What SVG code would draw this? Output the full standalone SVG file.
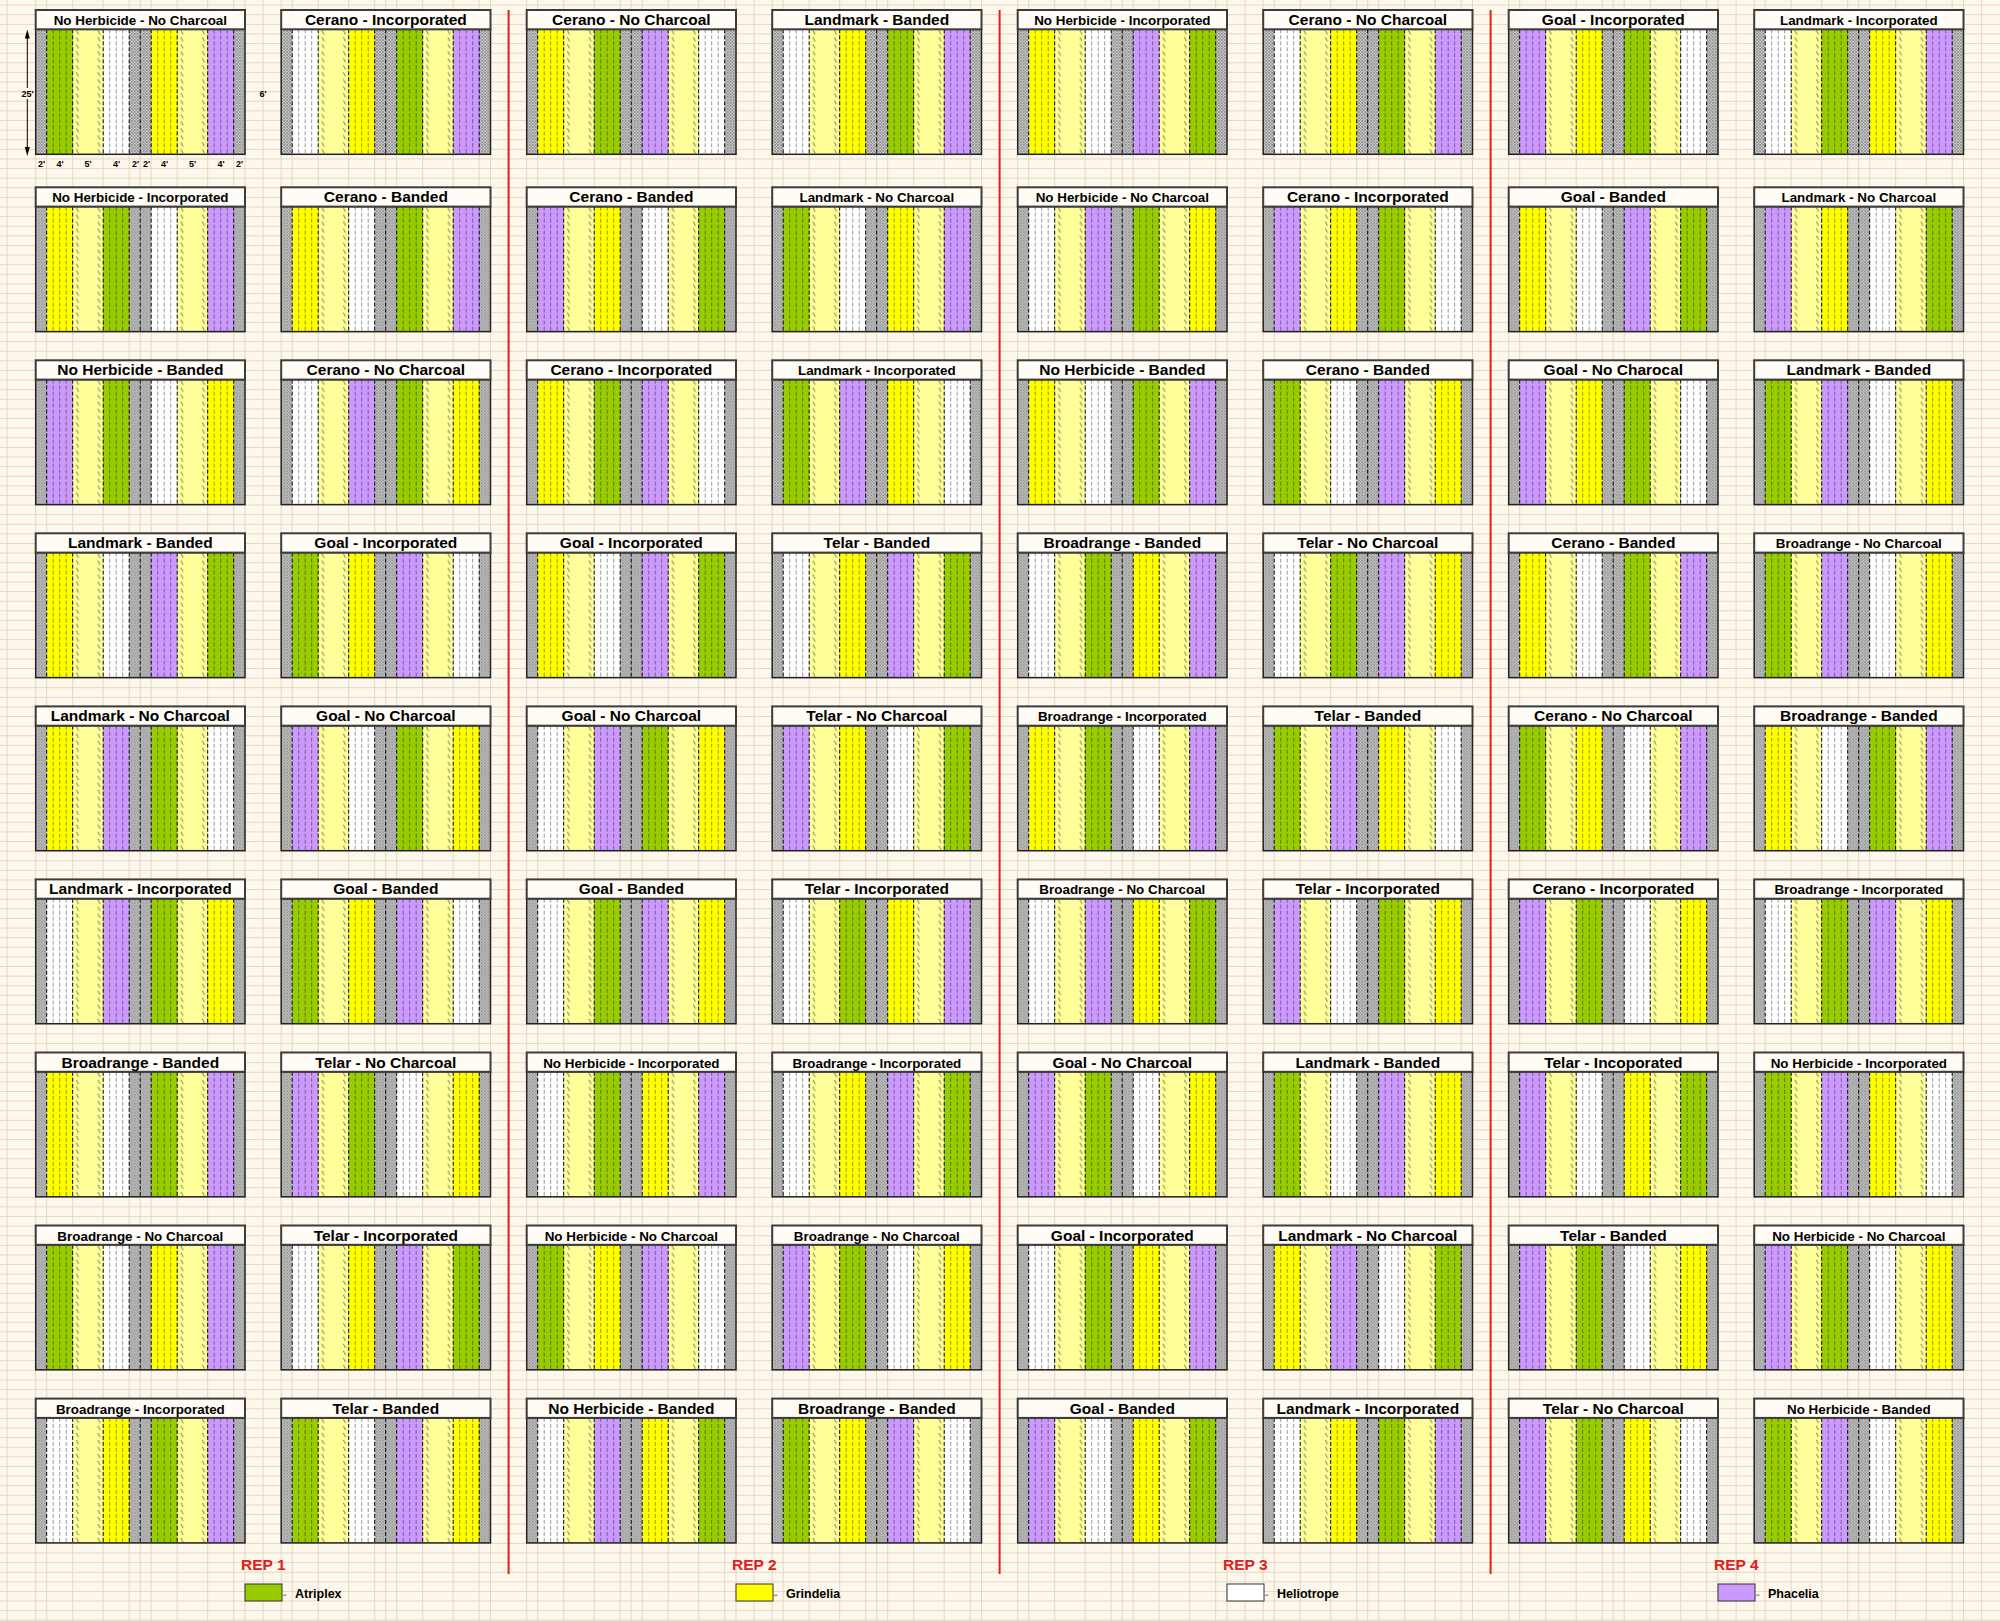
<svg xmlns="http://www.w3.org/2000/svg" xmlns:xlink="http://www.w3.org/1999/xlink" width="2000" height="1621" viewBox="0 0 2000 1621">
<style>
.t{font-family:"Liberation Sans",Arial,sans-serif;font-weight:bold;fill:#000;text-anchor:middle}
.L{font-size:15.5px}
.S{font-size:13.4px}
.d{font-size:9px}
.rep{font-family:"Liberation Sans",Arial,sans-serif;font-weight:bold;font-size:15.5px;fill:#e02020}
.lg{font-family:"Liberation Sans",Arial,sans-serif;font-weight:bold;font-size:12.5px;fill:#000}
.tb{fill:#fffcf6;stroke:#3c3c3c;stroke-width:2}
.fr{fill:none;stroke:#222;stroke-width:1.5}
.bd{fill:none;stroke:#000;stroke-width:1;stroke-dasharray:4 2}
.in{fill:none;stroke:#000;stroke-opacity:.45;stroke-width:.9;stroke-dasharray:4 2}
.red{stroke:#e02020;stroke-width:2}
.grid{fill:none;stroke:#e0d8c8;stroke-width:1}
</style>
<defs>
<pattern id="hatch" width="3" height="3" patternUnits="userSpaceOnUse">
<rect width="3" height="3" fill="#cfcfcf"/>
<path d="M0 0L3 3M3 0L0 3" stroke="#7d7d7d" stroke-width=".7"/>
</pattern>
<pattern id="bs" width="5" height="7" patternUnits="userSpaceOnUse">
<path d="M1.2 1L3.4 5.2" stroke="#55553a" stroke-width=".8"/>
</pattern>
<pattern id="hl" width="2000" height="9.614" y="187.3" patternUnits="userSpaceOnUse">
<rect width="2000" height="9.614" fill="#fdf7ec"/>
<path d="M0 0.5H2000" stroke="#e0d8c8" stroke-width="1"/>
</pattern>
<g id="bsc"><rect width="5" height="125" fill="url(#bs)"/></g>
<g id="sG"><rect width="26" height="125" fill="#99cc00"/><path class="in" d="M6.5 0V125M13 0V125M19.5 0V125"/></g>
<g id="sY"><rect width="26" height="125" fill="#ffff00"/><path class="in" d="M6.5 0V125M13 0V125M19.5 0V125"/></g>
<g id="sW"><rect width="26" height="125" fill="#ffffff"/><path class="in" d="M6.5 0V125M13 0V125M19.5 0V125"/></g>
<g id="sP"><rect width="26" height="125" fill="#cc99ff"/><path class="in" d="M6.5 0V125M13 0V125M19.5 0V125"/></g>
<g id="bg">
<rect x="0" y="19.3" width="209.3" height="125" fill="url(#hatch)"/>
<rect x="37" y="19.3" width="30.5" height="125" fill="#ffff99"/>
<rect x="141.5" y="19.3" width="30.5" height="125" fill="#ffff99"/>
<use xlink:href="#bsc" x="39.5" y="19.3"/>
<use xlink:href="#bsc" x="61" y="19.3"/>
<use xlink:href="#bsc" x="144" y="19.3"/>
<use xlink:href="#bsc" x="165.5" y="19.3"/>
</g>
<g id="ov">
<path class="bd" d="M11 19.3V144.3M37 19.3V144.3M67.5 19.3V144.3M93.5 19.3V144.3M104.5 19.3V144.3M115.5 19.3V144.3M141.5 19.3V144.3M172 19.3V144.3M198 19.3V144.3"/>
<rect class="fr" x="0" y="19.3" width="209.3" height="125"/>
<rect class="tb" x="0" y="0" width="209.3" height="19.3"/>
</g>
</defs>

<g id="background">
<rect width="2000" height="1621" fill="url(#hl)"/>
<path class="grid" d="M7 0V1621M35.7 0V1621M46.7 0V1621M72.7 0V1621M103.2 0V1621M129.2 0V1621M140.2 0V1621M151.2 0V1621M177.2 0V1621M207.7 0V1621M233.7 0V1621M245 0V1621M263.1 0V1621M281.2 0V1621M292.2 0V1621M318.2 0V1621M348.7 0V1621M374.7 0V1621M385.7 0V1621M396.7 0V1621M422.7 0V1621M453.2 0V1621M479.2 0V1621M490.5 0V1621M526.7 0V1621M537.7 0V1621M563.7 0V1621M594.2 0V1621M620.2 0V1621M631.2 0V1621M642.2 0V1621M668.2 0V1621M698.7 0V1621M724.7 0V1621M736 0V1621M754.1 0V1621M772.2 0V1621M783.2 0V1621M809.2 0V1621M839.7 0V1621M865.7 0V1621M876.7 0V1621M887.7 0V1621M913.7 0V1621M944.2 0V1621M970.2 0V1621M981.5 0V1621M1017.7 0V1621M1028.7 0V1621M1054.7 0V1621M1085.2 0V1621M1111.2 0V1621M1122.2 0V1621M1133.2 0V1621M1159.2 0V1621M1189.7 0V1621M1215.7 0V1621M1227 0V1621M1245.1 0V1621M1263.2 0V1621M1274.2 0V1621M1300.2 0V1621M1330.7 0V1621M1356.7 0V1621M1367.7 0V1621M1378.7 0V1621M1404.7 0V1621M1435.2 0V1621M1461.2 0V1621M1472.5 0V1621M1508.7 0V1621M1519.7 0V1621M1545.7 0V1621M1576.2 0V1621M1602.2 0V1621M1613.2 0V1621M1624.2 0V1621M1650.2 0V1621M1680.7 0V1621M1706.7 0V1621M1718 0V1621M1736.1 0V1621M1754.2 0V1621M1765.2 0V1621M1791.2 0V1621M1821.7 0V1621M1847.7 0V1621M1858.7 0V1621M1869.7 0V1621M1895.7 0V1621M1926.2 0V1621M1952.2 0V1621M1963.5 0V1621M1981.6 0V1621"/>
</g>

<g id="connectors">
<line class="red" x1="508.6" y1="10" x2="508.6" y2="1574"/>
<line class="red" x1="999.6" y1="10" x2="999.6" y2="1574"/>
<line class="red" x1="1490.6" y1="10" x2="1490.6" y2="1574"/>
</g>

<g id="dimensions">
<path d="M27.3 38V88M27.3 99V147" stroke="#000" stroke-width="1"/>
<path d="M27.3 29.5L24.8 38.5H29.8Z M27.3 156L24.8 147H29.8Z" fill="#000"/>
<text class="t d" x="27.5" y="96.5">25'</text>
<text class="t d" x="263" y="96.5">6'</text>
<text class="t d" x="41.5" y="166.5">2'</text>
<text class="t d" x="60" y="166.5">4'</text>
<text class="t d" x="88" y="166.5">5'</text>
<text class="t d" x="116.5" y="166.5">4'</text>
<text class="t d" x="135.5" y="166.5">2'</text>
<text class="t d" x="146.5" y="166.5">2'</text>
<text class="t d" x="164.5" y="166.5">4'</text>
<text class="t d" x="192.5" y="166.5">5'</text>
<text class="t d" x="221" y="166.5">4'</text>
<text class="t d" x="239.5" y="166.5">2'</text>
</g>

<!-- Row 1 -->
<g id="r1c1" transform="translate(35.7,10)"><use xlink:href="#bg"/><use xlink:href="#sG" x="11" y="19.3"/><use xlink:href="#sW" x="67.5" y="19.3"/><use xlink:href="#sY" x="115.5" y="19.3"/><use xlink:href="#sP" x="172" y="19.3"/><use xlink:href="#ov"/><text class="t S" x="104.65" y="15">No Herbicide - No Charcoal</text></g>
<g id="r1c2" transform="translate(281.2,10)"><use xlink:href="#bg"/><use xlink:href="#sW" x="11" y="19.3"/><use xlink:href="#sY" x="67.5" y="19.3"/><use xlink:href="#sG" x="115.5" y="19.3"/><use xlink:href="#sP" x="172" y="19.3"/><use xlink:href="#ov"/><text class="t L" x="104.65" y="15">Cerano - Incorporated</text></g>
<g id="r1c3" transform="translate(526.7,10)"><use xlink:href="#bg"/><use xlink:href="#sY" x="11" y="19.3"/><use xlink:href="#sG" x="67.5" y="19.3"/><use xlink:href="#sP" x="115.5" y="19.3"/><use xlink:href="#sW" x="172" y="19.3"/><use xlink:href="#ov"/><text class="t L" x="104.65" y="15">Cerano - No Charcoal</text></g>
<g id="r1c4" transform="translate(772.2,10)"><use xlink:href="#bg"/><use xlink:href="#sW" x="11" y="19.3"/><use xlink:href="#sY" x="67.5" y="19.3"/><use xlink:href="#sG" x="115.5" y="19.3"/><use xlink:href="#sP" x="172" y="19.3"/><use xlink:href="#ov"/><text class="t L" x="104.65" y="15">Landmark - Banded</text></g>
<g id="r1c5" transform="translate(1017.7,10)"><use xlink:href="#bg"/><use xlink:href="#sY" x="11" y="19.3"/><use xlink:href="#sW" x="67.5" y="19.3"/><use xlink:href="#sP" x="115.5" y="19.3"/><use xlink:href="#sG" x="172" y="19.3"/><use xlink:href="#ov"/><text class="t S" x="104.65" y="15">No Herbicide - Incorporated</text></g>
<g id="r1c6" transform="translate(1263.2,10)"><use xlink:href="#bg"/><use xlink:href="#sW" x="11" y="19.3"/><use xlink:href="#sY" x="67.5" y="19.3"/><use xlink:href="#sG" x="115.5" y="19.3"/><use xlink:href="#sP" x="172" y="19.3"/><use xlink:href="#ov"/><text class="t L" x="104.65" y="15">Cerano - No Charcoal</text></g>
<g id="r1c7" transform="translate(1508.7,10)"><use xlink:href="#bg"/><use xlink:href="#sP" x="11" y="19.3"/><use xlink:href="#sY" x="67.5" y="19.3"/><use xlink:href="#sG" x="115.5" y="19.3"/><use xlink:href="#sW" x="172" y="19.3"/><use xlink:href="#ov"/><text class="t L" x="104.65" y="15">Goal - Incorporated</text></g>
<g id="r1c8" transform="translate(1754.2,10)"><use xlink:href="#bg"/><use xlink:href="#sW" x="11" y="19.3"/><use xlink:href="#sG" x="67.5" y="19.3"/><use xlink:href="#sY" x="115.5" y="19.3"/><use xlink:href="#sP" x="172" y="19.3"/><use xlink:href="#ov"/><text class="t S" x="104.65" y="15">Landmark - Incorporated</text></g>

<!-- Row 2 -->
<g id="r2c1" transform="translate(35.7,187.3)"><use xlink:href="#bg"/><use xlink:href="#sY" x="11" y="19.3"/><use xlink:href="#sG" x="67.5" y="19.3"/><use xlink:href="#sW" x="115.5" y="19.3"/><use xlink:href="#sP" x="172" y="19.3"/><use xlink:href="#ov"/><text class="t S" x="104.65" y="15">No Herbicide - Incorporated</text></g>
<g id="r2c2" transform="translate(281.2,187.3)"><use xlink:href="#bg"/><use xlink:href="#sY" x="11" y="19.3"/><use xlink:href="#sW" x="67.5" y="19.3"/><use xlink:href="#sG" x="115.5" y="19.3"/><use xlink:href="#sP" x="172" y="19.3"/><use xlink:href="#ov"/><text class="t L" x="104.65" y="15">Cerano - Banded</text></g>
<g id="r2c3" transform="translate(526.7,187.3)"><use xlink:href="#bg"/><use xlink:href="#sP" x="11" y="19.3"/><use xlink:href="#sY" x="67.5" y="19.3"/><use xlink:href="#sW" x="115.5" y="19.3"/><use xlink:href="#sG" x="172" y="19.3"/><use xlink:href="#ov"/><text class="t L" x="104.65" y="15">Cerano - Banded</text></g>
<g id="r2c4" transform="translate(772.2,187.3)"><use xlink:href="#bg"/><use xlink:href="#sG" x="11" y="19.3"/><use xlink:href="#sW" x="67.5" y="19.3"/><use xlink:href="#sY" x="115.5" y="19.3"/><use xlink:href="#sP" x="172" y="19.3"/><use xlink:href="#ov"/><text class="t S" x="104.65" y="15">Landmark - No Charcoal</text></g>
<g id="r2c5" transform="translate(1017.7,187.3)"><use xlink:href="#bg"/><use xlink:href="#sW" x="11" y="19.3"/><use xlink:href="#sP" x="67.5" y="19.3"/><use xlink:href="#sG" x="115.5" y="19.3"/><use xlink:href="#sY" x="172" y="19.3"/><use xlink:href="#ov"/><text class="t S" x="104.65" y="15">No Herbicide - No Charcoal</text></g>
<g id="r2c6" transform="translate(1263.2,187.3)"><use xlink:href="#bg"/><use xlink:href="#sP" x="11" y="19.3"/><use xlink:href="#sY" x="67.5" y="19.3"/><use xlink:href="#sG" x="115.5" y="19.3"/><use xlink:href="#sW" x="172" y="19.3"/><use xlink:href="#ov"/><text class="t L" x="104.65" y="15">Cerano - Incorporated</text></g>
<g id="r2c7" transform="translate(1508.7,187.3)"><use xlink:href="#bg"/><use xlink:href="#sY" x="11" y="19.3"/><use xlink:href="#sW" x="67.5" y="19.3"/><use xlink:href="#sP" x="115.5" y="19.3"/><use xlink:href="#sG" x="172" y="19.3"/><use xlink:href="#ov"/><text class="t L" x="104.65" y="15">Goal - Banded</text></g>
<g id="r2c8" transform="translate(1754.2,187.3)"><use xlink:href="#bg"/><use xlink:href="#sP" x="11" y="19.3"/><use xlink:href="#sY" x="67.5" y="19.3"/><use xlink:href="#sW" x="115.5" y="19.3"/><use xlink:href="#sG" x="172" y="19.3"/><use xlink:href="#ov"/><text class="t S" x="104.65" y="15">Landmark - No Charcoal</text></g>

<!-- Row 3 -->
<g id="r3c1" transform="translate(35.7,360.3)"><use xlink:href="#bg"/><use xlink:href="#sP" x="11" y="19.3"/><use xlink:href="#sG" x="67.5" y="19.3"/><use xlink:href="#sW" x="115.5" y="19.3"/><use xlink:href="#sY" x="172" y="19.3"/><use xlink:href="#ov"/><text class="t L" x="104.65" y="15">No Herbicide - Banded</text></g>
<g id="r3c2" transform="translate(281.2,360.3)"><use xlink:href="#bg"/><use xlink:href="#sW" x="11" y="19.3"/><use xlink:href="#sP" x="67.5" y="19.3"/><use xlink:href="#sG" x="115.5" y="19.3"/><use xlink:href="#sY" x="172" y="19.3"/><use xlink:href="#ov"/><text class="t L" x="104.65" y="15">Cerano - No Charcoal</text></g>
<g id="r3c3" transform="translate(526.7,360.3)"><use xlink:href="#bg"/><use xlink:href="#sY" x="11" y="19.3"/><use xlink:href="#sG" x="67.5" y="19.3"/><use xlink:href="#sP" x="115.5" y="19.3"/><use xlink:href="#sW" x="172" y="19.3"/><use xlink:href="#ov"/><text class="t L" x="104.65" y="15">Cerano - Incorporated</text></g>
<g id="r3c4" transform="translate(772.2,360.3)"><use xlink:href="#bg"/><use xlink:href="#sG" x="11" y="19.3"/><use xlink:href="#sP" x="67.5" y="19.3"/><use xlink:href="#sY" x="115.5" y="19.3"/><use xlink:href="#sW" x="172" y="19.3"/><use xlink:href="#ov"/><text class="t S" x="104.65" y="15">Landmark - Incorporated</text></g>
<g id="r3c5" transform="translate(1017.7,360.3)"><use xlink:href="#bg"/><use xlink:href="#sY" x="11" y="19.3"/><use xlink:href="#sW" x="67.5" y="19.3"/><use xlink:href="#sG" x="115.5" y="19.3"/><use xlink:href="#sP" x="172" y="19.3"/><use xlink:href="#ov"/><text class="t L" x="104.65" y="15">No Herbicide - Banded</text></g>
<g id="r3c6" transform="translate(1263.2,360.3)"><use xlink:href="#bg"/><use xlink:href="#sG" x="11" y="19.3"/><use xlink:href="#sW" x="67.5" y="19.3"/><use xlink:href="#sP" x="115.5" y="19.3"/><use xlink:href="#sY" x="172" y="19.3"/><use xlink:href="#ov"/><text class="t L" x="104.65" y="15">Cerano - Banded</text></g>
<g id="r3c7" transform="translate(1508.7,360.3)"><use xlink:href="#bg"/><use xlink:href="#sP" x="11" y="19.3"/><use xlink:href="#sY" x="67.5" y="19.3"/><use xlink:href="#sG" x="115.5" y="19.3"/><use xlink:href="#sW" x="172" y="19.3"/><use xlink:href="#ov"/><text class="t L" x="104.65" y="15">Goal - No Charocal</text></g>
<g id="r3c8" transform="translate(1754.2,360.3)"><use xlink:href="#bg"/><use xlink:href="#sG" x="11" y="19.3"/><use xlink:href="#sP" x="67.5" y="19.3"/><use xlink:href="#sW" x="115.5" y="19.3"/><use xlink:href="#sY" x="172" y="19.3"/><use xlink:href="#ov"/><text class="t L" x="104.65" y="15">Landmark - Banded</text></g>

<!-- Row 4 -->
<g id="r4c1" transform="translate(35.7,533.3)"><use xlink:href="#bg"/><use xlink:href="#sY" x="11" y="19.3"/><use xlink:href="#sW" x="67.5" y="19.3"/><use xlink:href="#sP" x="115.5" y="19.3"/><use xlink:href="#sG" x="172" y="19.3"/><use xlink:href="#ov"/><text class="t L" x="104.65" y="15">Landmark - Banded</text></g>
<g id="r4c2" transform="translate(281.2,533.3)"><use xlink:href="#bg"/><use xlink:href="#sG" x="11" y="19.3"/><use xlink:href="#sY" x="67.5" y="19.3"/><use xlink:href="#sP" x="115.5" y="19.3"/><use xlink:href="#sW" x="172" y="19.3"/><use xlink:href="#ov"/><text class="t L" x="104.65" y="15">Goal - Incorporated</text></g>
<g id="r4c3" transform="translate(526.7,533.3)"><use xlink:href="#bg"/><use xlink:href="#sY" x="11" y="19.3"/><use xlink:href="#sW" x="67.5" y="19.3"/><use xlink:href="#sP" x="115.5" y="19.3"/><use xlink:href="#sG" x="172" y="19.3"/><use xlink:href="#ov"/><text class="t L" x="104.65" y="15">Goal - Incorporated</text></g>
<g id="r4c4" transform="translate(772.2,533.3)"><use xlink:href="#bg"/><use xlink:href="#sW" x="11" y="19.3"/><use xlink:href="#sY" x="67.5" y="19.3"/><use xlink:href="#sP" x="115.5" y="19.3"/><use xlink:href="#sG" x="172" y="19.3"/><use xlink:href="#ov"/><text class="t L" x="104.65" y="15">Telar - Banded</text></g>
<g id="r4c5" transform="translate(1017.7,533.3)"><use xlink:href="#bg"/><use xlink:href="#sW" x="11" y="19.3"/><use xlink:href="#sG" x="67.5" y="19.3"/><use xlink:href="#sY" x="115.5" y="19.3"/><use xlink:href="#sP" x="172" y="19.3"/><use xlink:href="#ov"/><text class="t L" x="104.65" y="15">Broadrange - Banded</text></g>
<g id="r4c6" transform="translate(1263.2,533.3)"><use xlink:href="#bg"/><use xlink:href="#sW" x="11" y="19.3"/><use xlink:href="#sG" x="67.5" y="19.3"/><use xlink:href="#sP" x="115.5" y="19.3"/><use xlink:href="#sY" x="172" y="19.3"/><use xlink:href="#ov"/><text class="t L" x="104.65" y="15">Telar - No Charcoal</text></g>
<g id="r4c7" transform="translate(1508.7,533.3)"><use xlink:href="#bg"/><use xlink:href="#sY" x="11" y="19.3"/><use xlink:href="#sW" x="67.5" y="19.3"/><use xlink:href="#sG" x="115.5" y="19.3"/><use xlink:href="#sP" x="172" y="19.3"/><use xlink:href="#ov"/><text class="t L" x="104.65" y="15">Cerano - Banded</text></g>
<g id="r4c8" transform="translate(1754.2,533.3)"><use xlink:href="#bg"/><use xlink:href="#sG" x="11" y="19.3"/><use xlink:href="#sP" x="67.5" y="19.3"/><use xlink:href="#sW" x="115.5" y="19.3"/><use xlink:href="#sY" x="172" y="19.3"/><use xlink:href="#ov"/><text class="t S" x="104.65" y="15">Broadrange - No Charcoal</text></g>

<!-- Row 5 -->
<g id="r5c1" transform="translate(35.7,706.4)"><use xlink:href="#bg"/><use xlink:href="#sY" x="11" y="19.3"/><use xlink:href="#sP" x="67.5" y="19.3"/><use xlink:href="#sG" x="115.5" y="19.3"/><use xlink:href="#sW" x="172" y="19.3"/><use xlink:href="#ov"/><text class="t L" x="104.65" y="15">Landmark - No Charcoal</text></g>
<g id="r5c2" transform="translate(281.2,706.4)"><use xlink:href="#bg"/><use xlink:href="#sP" x="11" y="19.3"/><use xlink:href="#sW" x="67.5" y="19.3"/><use xlink:href="#sG" x="115.5" y="19.3"/><use xlink:href="#sY" x="172" y="19.3"/><use xlink:href="#ov"/><text class="t L" x="104.65" y="15">Goal - No Charcoal</text></g>
<g id="r5c3" transform="translate(526.7,706.4)"><use xlink:href="#bg"/><use xlink:href="#sW" x="11" y="19.3"/><use xlink:href="#sP" x="67.5" y="19.3"/><use xlink:href="#sG" x="115.5" y="19.3"/><use xlink:href="#sY" x="172" y="19.3"/><use xlink:href="#ov"/><text class="t L" x="104.65" y="15">Goal - No Charcoal</text></g>
<g id="r5c4" transform="translate(772.2,706.4)"><use xlink:href="#bg"/><use xlink:href="#sP" x="11" y="19.3"/><use xlink:href="#sY" x="67.5" y="19.3"/><use xlink:href="#sW" x="115.5" y="19.3"/><use xlink:href="#sG" x="172" y="19.3"/><use xlink:href="#ov"/><text class="t L" x="104.65" y="15">Telar - No Charcoal</text></g>
<g id="r5c5" transform="translate(1017.7,706.4)"><use xlink:href="#bg"/><use xlink:href="#sY" x="11" y="19.3"/><use xlink:href="#sG" x="67.5" y="19.3"/><use xlink:href="#sW" x="115.5" y="19.3"/><use xlink:href="#sP" x="172" y="19.3"/><use xlink:href="#ov"/><text class="t S" x="104.65" y="15">Broadrange - Incorporated</text></g>
<g id="r5c6" transform="translate(1263.2,706.4)"><use xlink:href="#bg"/><use xlink:href="#sG" x="11" y="19.3"/><use xlink:href="#sP" x="67.5" y="19.3"/><use xlink:href="#sY" x="115.5" y="19.3"/><use xlink:href="#sW" x="172" y="19.3"/><use xlink:href="#ov"/><text class="t L" x="104.65" y="15">Telar - Banded</text></g>
<g id="r5c7" transform="translate(1508.7,706.4)"><use xlink:href="#bg"/><use xlink:href="#sG" x="11" y="19.3"/><use xlink:href="#sY" x="67.5" y="19.3"/><use xlink:href="#sW" x="115.5" y="19.3"/><use xlink:href="#sP" x="172" y="19.3"/><use xlink:href="#ov"/><text class="t L" x="104.65" y="15">Cerano - No Charcoal</text></g>
<g id="r5c8" transform="translate(1754.2,706.4)"><use xlink:href="#bg"/><use xlink:href="#sY" x="11" y="19.3"/><use xlink:href="#sW" x="67.5" y="19.3"/><use xlink:href="#sG" x="115.5" y="19.3"/><use xlink:href="#sP" x="172" y="19.3"/><use xlink:href="#ov"/><text class="t L" x="104.65" y="15">Broadrange - Banded</text></g>

<!-- Row 6 -->
<g id="r6c1" transform="translate(35.7,879.4)"><use xlink:href="#bg"/><use xlink:href="#sW" x="11" y="19.3"/><use xlink:href="#sP" x="67.5" y="19.3"/><use xlink:href="#sG" x="115.5" y="19.3"/><use xlink:href="#sY" x="172" y="19.3"/><use xlink:href="#ov"/><text class="t L" x="104.65" y="15">Landmark - Incorporated</text></g>
<g id="r6c2" transform="translate(281.2,879.4)"><use xlink:href="#bg"/><use xlink:href="#sG" x="11" y="19.3"/><use xlink:href="#sY" x="67.5" y="19.3"/><use xlink:href="#sP" x="115.5" y="19.3"/><use xlink:href="#sW" x="172" y="19.3"/><use xlink:href="#ov"/><text class="t L" x="104.65" y="15">Goal - Banded</text></g>
<g id="r6c3" transform="translate(526.7,879.4)"><use xlink:href="#bg"/><use xlink:href="#sW" x="11" y="19.3"/><use xlink:href="#sG" x="67.5" y="19.3"/><use xlink:href="#sP" x="115.5" y="19.3"/><use xlink:href="#sY" x="172" y="19.3"/><use xlink:href="#ov"/><text class="t L" x="104.65" y="15">Goal - Banded</text></g>
<g id="r6c4" transform="translate(772.2,879.4)"><use xlink:href="#bg"/><use xlink:href="#sW" x="11" y="19.3"/><use xlink:href="#sG" x="67.5" y="19.3"/><use xlink:href="#sY" x="115.5" y="19.3"/><use xlink:href="#sP" x="172" y="19.3"/><use xlink:href="#ov"/><text class="t L" x="104.65" y="15">Telar - Incorporated</text></g>
<g id="r6c5" transform="translate(1017.7,879.4)"><use xlink:href="#bg"/><use xlink:href="#sW" x="11" y="19.3"/><use xlink:href="#sP" x="67.5" y="19.3"/><use xlink:href="#sY" x="115.5" y="19.3"/><use xlink:href="#sG" x="172" y="19.3"/><use xlink:href="#ov"/><text class="t S" x="104.65" y="15">Broadrange - No Charcoal</text></g>
<g id="r6c6" transform="translate(1263.2,879.4)"><use xlink:href="#bg"/><use xlink:href="#sP" x="11" y="19.3"/><use xlink:href="#sW" x="67.5" y="19.3"/><use xlink:href="#sG" x="115.5" y="19.3"/><use xlink:href="#sY" x="172" y="19.3"/><use xlink:href="#ov"/><text class="t L" x="104.65" y="15">Telar - Incorporated</text></g>
<g id="r6c7" transform="translate(1508.7,879.4)"><use xlink:href="#bg"/><use xlink:href="#sP" x="11" y="19.3"/><use xlink:href="#sG" x="67.5" y="19.3"/><use xlink:href="#sW" x="115.5" y="19.3"/><use xlink:href="#sY" x="172" y="19.3"/><use xlink:href="#ov"/><text class="t L" x="104.65" y="15">Cerano - Incorporated</text></g>
<g id="r6c8" transform="translate(1754.2,879.4)"><use xlink:href="#bg"/><use xlink:href="#sW" x="11" y="19.3"/><use xlink:href="#sG" x="67.5" y="19.3"/><use xlink:href="#sP" x="115.5" y="19.3"/><use xlink:href="#sY" x="172" y="19.3"/><use xlink:href="#ov"/><text class="t S" x="104.65" y="15">Broadrange - Incorporated</text></g>

<!-- Row 7 -->
<g id="r7c1" transform="translate(35.7,1052.5)"><use xlink:href="#bg"/><use xlink:href="#sY" x="11" y="19.3"/><use xlink:href="#sW" x="67.5" y="19.3"/><use xlink:href="#sG" x="115.5" y="19.3"/><use xlink:href="#sP" x="172" y="19.3"/><use xlink:href="#ov"/><text class="t L" x="104.65" y="15">Broadrange - Banded</text></g>
<g id="r7c2" transform="translate(281.2,1052.5)"><use xlink:href="#bg"/><use xlink:href="#sP" x="11" y="19.3"/><use xlink:href="#sG" x="67.5" y="19.3"/><use xlink:href="#sW" x="115.5" y="19.3"/><use xlink:href="#sY" x="172" y="19.3"/><use xlink:href="#ov"/><text class="t L" x="104.65" y="15">Telar - No Charcoal</text></g>
<g id="r7c3" transform="translate(526.7,1052.5)"><use xlink:href="#bg"/><use xlink:href="#sW" x="11" y="19.3"/><use xlink:href="#sG" x="67.5" y="19.3"/><use xlink:href="#sY" x="115.5" y="19.3"/><use xlink:href="#sP" x="172" y="19.3"/><use xlink:href="#ov"/><text class="t S" x="104.65" y="15">No Herbicide - Incorporated</text></g>
<g id="r7c4" transform="translate(772.2,1052.5)"><use xlink:href="#bg"/><use xlink:href="#sW" x="11" y="19.3"/><use xlink:href="#sY" x="67.5" y="19.3"/><use xlink:href="#sP" x="115.5" y="19.3"/><use xlink:href="#sG" x="172" y="19.3"/><use xlink:href="#ov"/><text class="t S" x="104.65" y="15">Broadrange - Incorporated</text></g>
<g id="r7c5" transform="translate(1017.7,1052.5)"><use xlink:href="#bg"/><use xlink:href="#sP" x="11" y="19.3"/><use xlink:href="#sG" x="67.5" y="19.3"/><use xlink:href="#sW" x="115.5" y="19.3"/><use xlink:href="#sY" x="172" y="19.3"/><use xlink:href="#ov"/><text class="t L" x="104.65" y="15">Goal - No Charcoal</text></g>
<g id="r7c6" transform="translate(1263.2,1052.5)"><use xlink:href="#bg"/><use xlink:href="#sG" x="11" y="19.3"/><use xlink:href="#sW" x="67.5" y="19.3"/><use xlink:href="#sP" x="115.5" y="19.3"/><use xlink:href="#sY" x="172" y="19.3"/><use xlink:href="#ov"/><text class="t L" x="104.65" y="15">Landmark - Banded</text></g>
<g id="r7c7" transform="translate(1508.7,1052.5)"><use xlink:href="#bg"/><use xlink:href="#sP" x="11" y="19.3"/><use xlink:href="#sW" x="67.5" y="19.3"/><use xlink:href="#sY" x="115.5" y="19.3"/><use xlink:href="#sG" x="172" y="19.3"/><use xlink:href="#ov"/><text class="t L" x="104.65" y="15">Telar - Incoporated</text></g>
<g id="r7c8" transform="translate(1754.2,1052.5)"><use xlink:href="#bg"/><use xlink:href="#sG" x="11" y="19.3"/><use xlink:href="#sP" x="67.5" y="19.3"/><use xlink:href="#sY" x="115.5" y="19.3"/><use xlink:href="#sW" x="172" y="19.3"/><use xlink:href="#ov"/><text class="t S" x="104.65" y="15">No Herbicide - Incorporated</text></g>

<!-- Row 8 -->
<g id="r8c1" transform="translate(35.7,1225.5)"><use xlink:href="#bg"/><use xlink:href="#sG" x="11" y="19.3"/><use xlink:href="#sW" x="67.5" y="19.3"/><use xlink:href="#sY" x="115.5" y="19.3"/><use xlink:href="#sP" x="172" y="19.3"/><use xlink:href="#ov"/><text class="t S" x="104.65" y="15">Broadrange - No Charcoal</text></g>
<g id="r8c2" transform="translate(281.2,1225.5)"><use xlink:href="#bg"/><use xlink:href="#sW" x="11" y="19.3"/><use xlink:href="#sY" x="67.5" y="19.3"/><use xlink:href="#sP" x="115.5" y="19.3"/><use xlink:href="#sG" x="172" y="19.3"/><use xlink:href="#ov"/><text class="t L" x="104.65" y="15">Telar - Incorporated</text></g>
<g id="r8c3" transform="translate(526.7,1225.5)"><use xlink:href="#bg"/><use xlink:href="#sG" x="11" y="19.3"/><use xlink:href="#sY" x="67.5" y="19.3"/><use xlink:href="#sP" x="115.5" y="19.3"/><use xlink:href="#sW" x="172" y="19.3"/><use xlink:href="#ov"/><text class="t S" x="104.65" y="15">No Herbicide - No Charcoal</text></g>
<g id="r8c4" transform="translate(772.2,1225.5)"><use xlink:href="#bg"/><use xlink:href="#sP" x="11" y="19.3"/><use xlink:href="#sG" x="67.5" y="19.3"/><use xlink:href="#sW" x="115.5" y="19.3"/><use xlink:href="#sY" x="172" y="19.3"/><use xlink:href="#ov"/><text class="t S" x="104.65" y="15">Broadrange - No Charcoal</text></g>
<g id="r8c5" transform="translate(1017.7,1225.5)"><use xlink:href="#bg"/><use xlink:href="#sW" x="11" y="19.3"/><use xlink:href="#sG" x="67.5" y="19.3"/><use xlink:href="#sY" x="115.5" y="19.3"/><use xlink:href="#sP" x="172" y="19.3"/><use xlink:href="#ov"/><text class="t L" x="104.65" y="15">Goal - Incorporated</text></g>
<g id="r8c6" transform="translate(1263.2,1225.5)"><use xlink:href="#bg"/><use xlink:href="#sY" x="11" y="19.3"/><use xlink:href="#sP" x="67.5" y="19.3"/><use xlink:href="#sW" x="115.5" y="19.3"/><use xlink:href="#sG" x="172" y="19.3"/><use xlink:href="#ov"/><text class="t L" x="104.65" y="15">Landmark - No Charcoal</text></g>
<g id="r8c7" transform="translate(1508.7,1225.5)"><use xlink:href="#bg"/><use xlink:href="#sP" x="11" y="19.3"/><use xlink:href="#sG" x="67.5" y="19.3"/><use xlink:href="#sW" x="115.5" y="19.3"/><use xlink:href="#sY" x="172" y="19.3"/><use xlink:href="#ov"/><text class="t L" x="104.65" y="15">Telar - Banded</text></g>
<g id="r8c8" transform="translate(1754.2,1225.5)"><use xlink:href="#bg"/><use xlink:href="#sP" x="11" y="19.3"/><use xlink:href="#sG" x="67.5" y="19.3"/><use xlink:href="#sW" x="115.5" y="19.3"/><use xlink:href="#sY" x="172" y="19.3"/><use xlink:href="#ov"/><text class="t S" x="104.65" y="15">No Herbicide - No Charcoal</text></g>

<!-- Row 9 -->
<g id="r9c1" transform="translate(35.7,1398.6)"><use xlink:href="#bg"/><use xlink:href="#sW" x="11" y="19.3"/><use xlink:href="#sY" x="67.5" y="19.3"/><use xlink:href="#sG" x="115.5" y="19.3"/><use xlink:href="#sP" x="172" y="19.3"/><use xlink:href="#ov"/><text class="t S" x="104.65" y="15">Broadrange - Incorporated</text></g>
<g id="r9c2" transform="translate(281.2,1398.6)"><use xlink:href="#bg"/><use xlink:href="#sG" x="11" y="19.3"/><use xlink:href="#sW" x="67.5" y="19.3"/><use xlink:href="#sP" x="115.5" y="19.3"/><use xlink:href="#sY" x="172" y="19.3"/><use xlink:href="#ov"/><text class="t L" x="104.65" y="15">Telar - Banded</text></g>
<g id="r9c3" transform="translate(526.7,1398.6)"><use xlink:href="#bg"/><use xlink:href="#sW" x="11" y="19.3"/><use xlink:href="#sP" x="67.5" y="19.3"/><use xlink:href="#sY" x="115.5" y="19.3"/><use xlink:href="#sG" x="172" y="19.3"/><use xlink:href="#ov"/><text class="t L" x="104.65" y="15">No Herbicide - Banded</text></g>
<g id="r9c4" transform="translate(772.2,1398.6)"><use xlink:href="#bg"/><use xlink:href="#sG" x="11" y="19.3"/><use xlink:href="#sY" x="67.5" y="19.3"/><use xlink:href="#sP" x="115.5" y="19.3"/><use xlink:href="#sW" x="172" y="19.3"/><use xlink:href="#ov"/><text class="t L" x="104.65" y="15">Broadrange - Banded</text></g>
<g id="r9c5" transform="translate(1017.7,1398.6)"><use xlink:href="#bg"/><use xlink:href="#sP" x="11" y="19.3"/><use xlink:href="#sW" x="67.5" y="19.3"/><use xlink:href="#sY" x="115.5" y="19.3"/><use xlink:href="#sG" x="172" y="19.3"/><use xlink:href="#ov"/><text class="t L" x="104.65" y="15">Goal - Banded</text></g>
<g id="r9c6" transform="translate(1263.2,1398.6)"><use xlink:href="#bg"/><use xlink:href="#sW" x="11" y="19.3"/><use xlink:href="#sY" x="67.5" y="19.3"/><use xlink:href="#sG" x="115.5" y="19.3"/><use xlink:href="#sP" x="172" y="19.3"/><use xlink:href="#ov"/><text class="t L" x="104.65" y="15">Landmark - Incorporated</text></g>
<g id="r9c7" transform="translate(1508.7,1398.6)"><use xlink:href="#bg"/><use xlink:href="#sP" x="11" y="19.3"/><use xlink:href="#sG" x="67.5" y="19.3"/><use xlink:href="#sY" x="115.5" y="19.3"/><use xlink:href="#sW" x="172" y="19.3"/><use xlink:href="#ov"/><text class="t L" x="104.65" y="15">Telar - No Charcoal</text></g>
<g id="r9c8" transform="translate(1754.2,1398.6)"><use xlink:href="#bg"/><use xlink:href="#sG" x="11" y="19.3"/><use xlink:href="#sP" x="67.5" y="19.3"/><use xlink:href="#sW" x="115.5" y="19.3"/><use xlink:href="#sY" x="172" y="19.3"/><use xlink:href="#ov"/><text class="t S" x="104.65" y="15">No Herbicide - Banded</text></g>

<g id="reps">
<text class="rep" x="241" y="1570">REP 1</text>
<text class="rep" x="732" y="1570">REP 2</text>
<text class="rep" x="1223" y="1570">REP 3</text>
<text class="rep" x="1714" y="1570">REP 4</text>
</g>

<g id="legend">
<g id="lg-atriplex"><rect x="245" y="1584" width="37" height="17" fill="#99cc00" stroke="#333" stroke-width="1"/><path d="M283 1595.3H286.5" stroke="#999" stroke-width="1.5"/><text class="lg" x="295" y="1597.5">Atriplex</text></g>
<g id="lg-grindelia"><rect x="736" y="1584" width="37" height="17" fill="#ffff00" stroke="#333" stroke-width="1"/><path d="M774 1595.3H777.5" stroke="#999" stroke-width="1.5"/><text class="lg" x="786" y="1597.5">Grindelia</text></g>
<g id="lg-heliotrope"><rect x="1227" y="1584" width="37" height="17" fill="#ffffff" stroke="#333" stroke-width="1"/><path d="M1265 1595.3H1268.5" stroke="#999" stroke-width="1.5"/><text class="lg" x="1277" y="1597.5">Heliotrope</text></g>
<g id="lg-phacelia"><rect x="1718" y="1584" width="37" height="17" fill="#cc99ff" stroke="#333" stroke-width="1"/><path d="M1756 1595.3H1759.5" stroke="#999" stroke-width="1.5"/><text class="lg" x="1768" y="1597.5">Phacelia</text></g>
</g>
</svg>
